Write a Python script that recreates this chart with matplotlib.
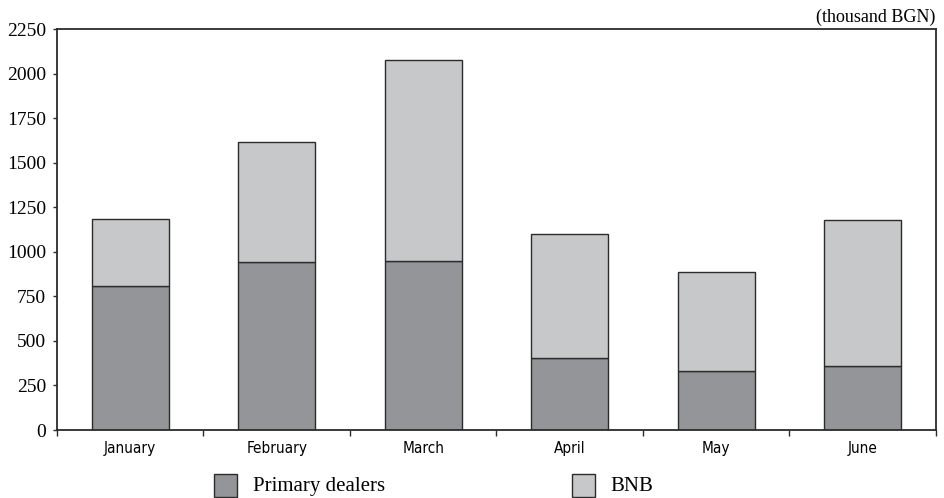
import numpy as np
import matplotlib
matplotlib.use("Agg")
import matplotlib.pyplot as plt
from matplotlib.patches import Rectangle
from matplotlib import font_manager

# Monthly values (thousand BGN)
months = ["January", "February", "March", "April", "May", "June"]
primary_dealers = [810, 940, 950, 402, 332, 360]
bnb = [375, 675, 1125, 696, 555, 820]
y_ticks = [0, 250, 500, 750, 1000, 1250, 1500, 1750, 2000, 2250]

dark = "#939598"
light = "#c7c8ca"
edge = "#2b2b2b"

# narrow font for the month names, if one is around
names = {f.name for f in font_manager.fontManager.ttflist}
narrow = "Liberation Sans Narrow" if "Liberation Sans Narrow" in names else "DejaVu Sans"

fig = plt.figure(figsize=(9.45, 4.98), dpi=100)
ax = fig.add_axes([57 / 945, 68 / 498, 879 / 945, 401 / 498])

x = np.arange(len(months))
ax.bar(x, primary_dealers, width=0.525, color=dark, edgecolor=edge, linewidth=1.0)
ax.bar(x, bnb, width=0.525, bottom=primary_dealers, color=light, edgecolor=edge, linewidth=1.0)

ax.set_xlim(-0.5, len(months) - 0.5)
ax.set_ylim(0, 2250)

# boundary ticks, labels in the middle
ax.set_xticks(np.arange(-0.5, len(months), 1.0))
ax.set_xticklabels([])
ax.set_xticks(x, minor=True)
ax.set_xticklabels(months, minor=True, family=narrow, stretch="condensed", fontsize=11)
ax.tick_params(axis="x", which="minor", length=0, pad=8)
ax.tick_params(axis="x", which="major", length=4, width=1, direction="out", color=edge)

ax.set_yticks(y_ticks)
ax.set_yticklabels([str(v) for v in y_ticks], family="Liberation Serif", fontsize=14)
ax.tick_params(axis="y", length=3, width=1, direction="out", color=edge, pad=5)

for s in ax.spines.values():
    s.set_color(edge)
    s.set_linewidth(1.3)

fig.text(935 / 945, 1 - 17 / 498, "(thousand BGN)", ha="right", va="center",
         family="Liberation Serif", fontsize=13)

# legend drawn by hand
fig.add_artist(Rectangle((214 / 945, 1 - 497 / 498), 23 / 945, 23 / 498,
                         transform=fig.transFigure, facecolor=dark, edgecolor=edge, linewidth=1.0))
fig.text(253 / 945, 1 - 486 / 498, "Primary dealers", ha="left", va="center",
         family="Liberation Serif", fontsize=15)
fig.add_artist(Rectangle((572 / 945, 1 - 497 / 498), 23 / 945, 23 / 498,
                         transform=fig.transFigure, facecolor=light, edgecolor=edge, linewidth=1.0))
fig.text(610 / 945, 1 - 486 / 498, "BNB", ha="left", va="center",
         family="Liberation Serif", fontsize=15)

fig.savefig("out.png", dpi=100)
